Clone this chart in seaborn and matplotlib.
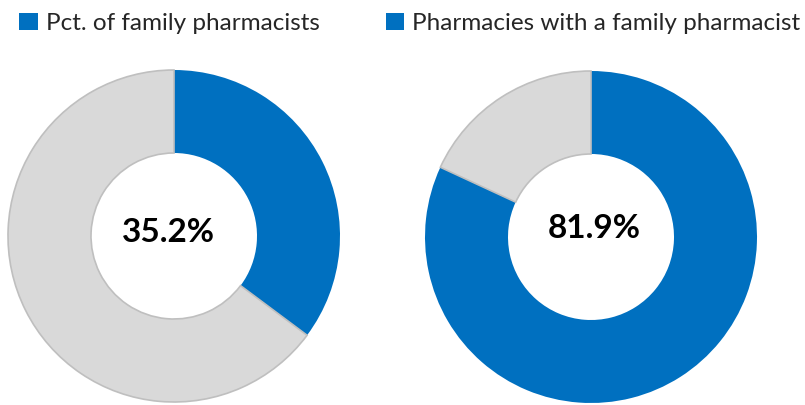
import seaborn as sns
import matplotlib.pyplot as plt
from matplotlib.patches import Patch

sns.set_theme(style="white")
plt.rcParams['font.family'] = ['Lato', 'DejaVu Sans']

# data
labels = ["Pct. of family pharmacists", "Pharmacies with a family pharmacist"]
shares = [35.2, 81.9]
blue = "#0070C0"
grey = "#D9D9D9"

fig = plt.figure(figsize=(8.05, 4.05), dpi=100)
ax = fig.add_axes([0, 0, 1, 1])

centers = [(174, 169), (591, 168)]
text_pos = [(168, 172), (594, 177)]
for (cx, cy), (tx, ty), pct in zip(centers, text_pos, shares):
    wedges, _ = ax.pie([pct, 100 - pct], colors=[blue, grey], startangle=90,
                       counterclock=False, radius=166, center=(cx, cy),
                       wedgeprops=dict(width=83, linewidth=0), frame=True)
    wedges[1].set_edgecolor("#BFBFBF")
    wedges[1].set_linewidth(1.2)
    ax.text(tx, ty, f"{pct:.1f}%", ha="center", va="center",
            fontsize=24, fontweight="bold", color="black")

ax.set_xlim(0, 805)
ax.set_ylim(0, 405)
ax.set_aspect("equal")
ax.axis("off")

leg_x = [0.012, 0.467]
for x, lab in zip(leg_x, labels):
    fig.legend(handles=[Patch(facecolor=blue, edgecolor="none")], labels=[lab],
               loc="upper left", bbox_to_anchor=(x, 0.993), frameon=False,
               fontsize=17.5, handlelength=0.75, handleheight=0.75,
               handletextpad=0.35, borderaxespad=0)

fig.savefig("out.png", dpi=100)
